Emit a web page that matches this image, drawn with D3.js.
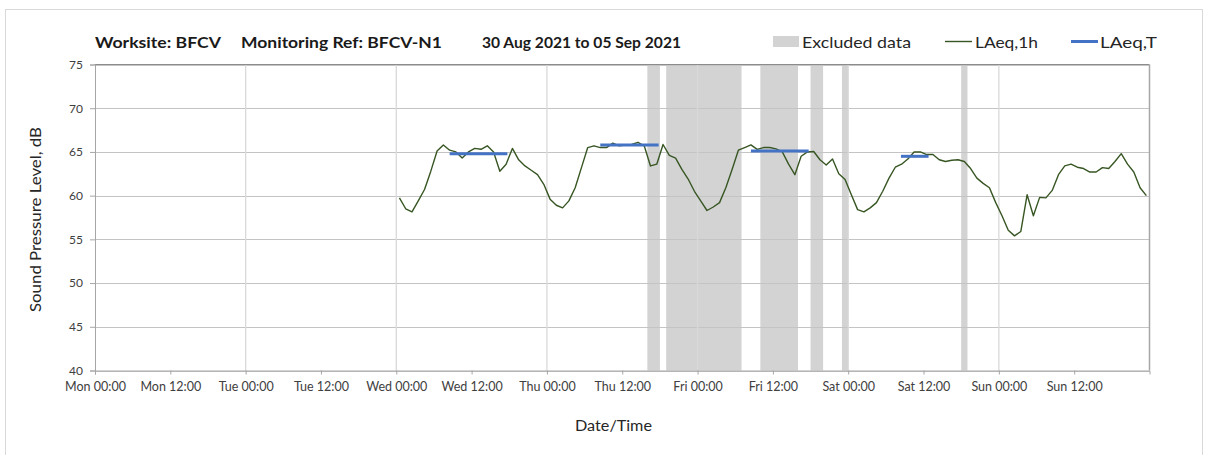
<!DOCTYPE html>
<html><head><meta charset="utf-8">
<script src="https://cdn.jsdelivr.net/npm/d3@7"></script>
<style>
html,body{margin:0;padding:0;background:#fff;}
svg{display:block;font-family:Lato,"Open Sans",sans-serif;}
</style></head>
<body>
<svg id="chart" width="1208" height="455"></svg>
<script>
// ---------------- data ----------------
const titleParts = ["Worksite: BFCV", "Monitoring Ref: BFCV-N1", "30 Aug 2021 to 05 Sep 2021"];
const xDomain = ["2021-08-30T00:00", "2021-09-06T00:00"];
const xTickLabels = ["Mon 00:00","Mon 12:00","Tue 00:00","Tue 12:00","Wed 00:00","Wed 12:00",
  "Thu 00:00","Thu 12:00","Fri 00:00","Fri 12:00","Sat 00:00","Sat 12:00","Sun 00:00","Sun 12:00"];
const yTicks = [40,45,50,55,60,65,70,75];
// LAeq,1h hourly values, first value at 01 Sep 2021 00:30 (hour midpoints)
const laeq1hStart = "2021-09-01T00:30";
const laeq1h = [
  59.75,58.5,58.15,59.4,60.7,62.8,65.1,65.8,65.2,65.0,
  64.3,65.0,65.4,65.3,65.7,65.0,62.8,63.6,65.4,64.1,
  63.4,62.9,62.4,61.3,59.6,58.9,58.6,59.4,60.9,63.2,
  65.5,65.7,65.5,65.5,66.0,65.7,65.8,65.85,66.1,65.7,
  63.4,63.6,65.85,64.6,64.3,63.0,61.9,60.5,59.4,58.3,
  58.7,59.2,60.9,63.0,65.2,65.5,65.8,65.3,65.5,65.5,
  65.35,65.0,63.6,62.4,64.5,65.0,65.05,64.1,63.5,64.2,
  62.5,61.85,60.1,58.4,58.15,58.6,59.2,60.5,62.0,63.25,
  63.6,64.2,65.0,65.0,64.7,64.7,64.1,63.9,64.05,64.1,
  63.9,63.1,62.0,61.4,60.9,59.2,57.7,56.05,55.4,55.9,
  60.1,57.7,59.8,59.75,60.6,62.4,63.4,63.6,63.25,63.1,
  62.7,62.7,63.2,63.1,63.9,64.8,63.6,62.7,60.9,60.0
];
// LAeq,T period values
const laeqTStart = ["2021-09-01T08:30","2021-09-02T08:30","2021-09-03T08:30","2021-09-04T08:24"];
const laeqTEnd   = ["2021-09-01T17:42","2021-09-02T17:48","2021-09-03T17:42","2021-09-04T12:48"];
const laeqTValue = [64.8, 65.8, 65.1, 64.5];
// Excluded data periods
const exclStart = ["2021-09-02T16:00","2021-09-02T19:00","2021-09-03T10:00","2021-09-03T18:00","2021-09-03T23:00","2021-09-04T18:00"];
const exclEnd   = ["2021-09-02T18:00","2021-09-03T07:00","2021-09-03T16:00","2021-09-03T20:00","2021-09-04T00:00","2021-09-04T19:00"];
const legendLabels = ["Excluded data","LAeq,1h","LAeq,T"];

// ---------------- drawing ----------------
const parse = s => new Date(s);
const svg = d3.select("#chart");
const W = 1208, H = 455;
const m = {left:95, right:W-1149.5, top:64.5, bottom:H-370.5};
const pw = W - m.left - m.right, ph = H - m.top - m.bottom;

const x = d3.scaleTime().domain(xDomain.map(parse)).range([m.left, m.left+pw]);
const y = d3.scaleLinear().domain([40,75]).range([m.top+ph, m.top]);

// outer frame
svg.append("rect").attr("x",5.5).attr("y",9.5).attr("width",1197).attr("height",460)
  .attr("fill","#fff").attr("stroke","#d9d9d9").attr("stroke-width",1);

// excluded bands
const excl = exclStart.map((s,i)=>({s:parse(s), e:parse(exclEnd[i])}));
svg.append("g").selectAll("rect").data(excl).join("rect")
  .attr("x", d=>x(d.s)).attr("width", d=>x(d.e)-x(d.s))
  .attr("y", m.top).attr("height", ph).attr("fill","#d3d3d3");

// horizontal grid
svg.append("g").selectAll("line").data(yTicks).join("line")
  .attr("x1", m.left).attr("x2", m.left+pw)
  .attr("y1", d=>Math.round(y(d))+0.5).attr("y2", d=>Math.round(y(d))+0.5)
  .attr("stroke","#c4c4c4").attr("stroke-width",1.2);

// vertical grid (daily)
const days = d3.timeDay.range(parse(xDomain[0]), parse(xDomain[1])).slice(1);
svg.append("g").selectAll("line").data(days).join("line")
  .attr("x1", d=>x(d)).attr("x2", d=>x(d))
  .attr("y1", m.top).attr("y2", m.top+ph)
  .attr("stroke","#d9d9d9").attr("stroke-width",1.3);

// plot border top/right
svg.append("line").attr("x1",m.left).attr("x2",m.left+pw).attr("y1",m.top).attr("y2",m.top)
  .attr("stroke","#8c8c8c").attr("stroke-width",1);
svg.append("line").attr("x1",m.left+pw).attr("x2",m.left+pw).attr("y1",m.top).attr("y2",m.top+ph)
  .attr("stroke","#a6a6a6").attr("stroke-width",1.5);

// y axis
const yAxis = d3.axisLeft(y).tickValues(yTicks).tickSize(5).tickPadding(7).tickFormat(d3.format("d"));
const gy = svg.append("g").attr("transform",`translate(${m.left},0)`).call(yAxis);
gy.select(".domain").attr("stroke","#a6a6a6");
gy.selectAll(".tick line").attr("stroke","#a6a6a6");
gy.selectAll("text").attr("font-size",12).attr("fill","#404040").attr("font-family","Lato,sans-serif");

// x axis
const xTicks = d3.timeHour.every(12).range(parse(xDomain[0]), parse(xDomain[1]));
const xAxis = d3.axisBottom(x).tickValues(xTicks).tickSize(4).tickPadding(8)
  .tickFormat((d,i)=>xTickLabels[i]);
const gx = svg.append("g").attr("transform",`translate(0,${m.top+ph})`).call(xAxis);
gx.select(".domain").attr("stroke","#a6a6a6");
gx.selectAll(".tick line").attr("stroke","#a6a6a6");
gx.selectAll("text").attr("font-size",12.5).attr("fill","#404040").attr("font-family","Lato,sans-serif");

// LAeq,1h line
const t0 = parse(laeq1hStart);
const pts = laeq1h.map((v,i)=>({t:d3.timeHour.offset(t0,i), v}));
svg.append("path").datum(pts)
  .attr("d", d3.line().x(d=>x(d.t)).y(d=>y(d.v)))
  .attr("fill","none").attr("stroke","#375623").attr("stroke-width",1.4).attr("stroke-linejoin","round");

// LAeq,T segments
const segs = laeqTStart.map((s,i)=>({s:parse(s), e:parse(laeqTEnd[i]), v:laeqTValue[i]}));
svg.append("g").selectAll("line").data(segs).join("line")
  .attr("x1", d=>x(d.s)).attr("x2", d=>x(d.e))
  .attr("y1", d=>y(d.v)).attr("y2", d=>y(d.v))
  .attr("stroke","#4472c4").attr("stroke-width",3);

// axis titles
svg.append("text").attr("x", 575).attr("y", 431)
  .attr("font-size",15.5).attr("fill","#262626")
  .attr("textLength",77).attr("lengthAdjust","spacingAndGlyphs").text("Date/Time");
svg.append("text").attr("transform","translate(41,312) rotate(-90)")
  .attr("font-size",16).attr("fill","#262626")
  .attr("textLength",185).attr("lengthAdjust","spacingAndGlyphs").text("Sound Pressure Level, dB");

// title
const title = svg.append("text").attr("y",48).attr("font-size",16)
  .attr("font-weight","bold").attr("fill","#1a1a1a");
const tPos = [[95,126],[241,201],[482,199]];
titleParts.forEach((t,i)=>{
  svg.append("text").attr("x",tPos[i][0]).attr("y",48).attr("font-size",15.5)
    .attr("font-weight","bold").attr("fill","#1a1a1a")
    .attr("textLength",tPos[i][1]).attr("lengthAdjust","spacingAndGlyphs").text(t);
});

// legend
const lg = svg.append("g").attr("font-size",16).attr("fill","#262626");
lg.append("rect").attr("x",773).attr("y",36).attr("width",26).attr("height",11).attr("fill","#d3d3d3");
lg.append("text").attr("x",802).attr("y",47.5).attr("textLength",109).attr("lengthAdjust","spacingAndGlyphs").text(legendLabels[0]);
lg.append("line").attr("x1",945).attr("x2",972).attr("y1",41.5).attr("y2",41.5).attr("stroke","#375623").attr("stroke-width",1.4);
lg.append("text").attr("x",975).attr("y",47.5).attr("textLength",63).attr("lengthAdjust","spacingAndGlyphs").text(legendLabels[1]);
lg.append("line").attr("x1",1071).attr("x2",1098).attr("y1",41.5).attr("y2",41.5).attr("stroke","#4472c4").attr("stroke-width",3);
lg.append("text").attr("x",1100).attr("y",47.5).attr("textLength",57).attr("lengthAdjust","spacingAndGlyphs").text(legendLabels[2]);
</script>
</body></html>
